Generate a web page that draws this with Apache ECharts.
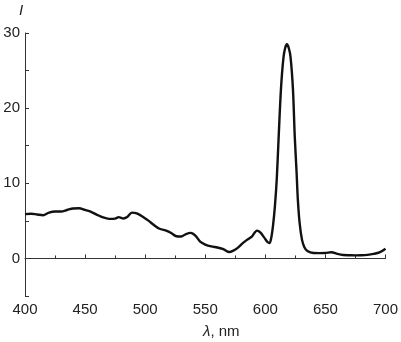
<!DOCTYPE html>
<html>
<head>
<meta charset="utf-8">
<script src="https://cdn.jsdelivr.net/npm/echarts@6/dist/echarts.min.js"></script>
<style>html,body{margin:0;padding:0;background:#fff;}#c{width:401px;height:342px;}</style>
</head>
<body>
<div id="c"></div>
<script>
const wavelengths = [400,405,410,415,420,425,430,435,440,445,450,455,460,465,470,475,478,482,485,489,493,498,503,507,512,518,522,526,530,534,538,542,546,550,555,560,565,570,573,577,581,585,589,593,596,599,602,603.5,605,606.5,608,609.5,611,613,615,616.5,618,619.5,621,623,624.5,626,627,628.5,630.5,632.5,635,640,645,650,655,660,665,670,675,680,685,690,695,700];
const intensity = [5.9,5.95,5.85,5.75,6.1,6.25,6.25,6.45,6.65,6.68,6.45,6.2,5.8,5.45,5.27,5.3,5.5,5.32,5.5,6.1,6.0,5.55,5.0,4.48,3.95,3.68,3.35,2.95,2.92,3.25,3.4,3.0,2.2,1.85,1.6,1.45,1.25,0.85,1.0,1.4,2.0,2.5,2.95,3.7,3.45,2.8,2.15,2.05,2.8,4.5,7.0,10.5,15.8,22.5,26.6,28.0,28.5,28.0,26.8,22.5,16.2,11.5,8.0,4.8,2.5,1.5,1.0,0.72,0.7,0.72,0.82,0.6,0.45,0.42,0.4,0.42,0.48,0.6,0.8,1.3];
const xTicks = [400,450,500,550,600,650,700];
const yTicks = [0,10,20,30];

const chart = echarts.init(document.getElementById('c'));
const axisColor = '#333';
const labelFont = {color:'#222', fontSize:15, fontFamily:'Liberation Sans, Arial, sans-serif'};
chart.setOption({
  animation:false,
  grid:{left:25, right:15.5, top:33, bottom:46},
  xAxis:{
    type:'value', min:400, max:700, interval:50,
    axisLine:{lineStyle:{color:axisColor,width:1}},
    axisTick:{inside:true,length:4,lineStyle:{color:axisColor}},
    minorTick:{show:true,splitNumber:2,length:3,lineStyle:{color:axisColor}},
    axisLabel:Object.assign({margin:6,formatter:function(v){return xTicks.indexOf(v)>=0? String(v):'';}},labelFont),
    splitLine:{show:false}
  },
  yAxis:{
    type:'value', min:-5, max:30, interval:5,
    axisLine:{show:true,lineStyle:{color:axisColor,width:1}},
    axisTick:{inside:true,length:4,lineStyle:{color:axisColor}},
    axisLabel:Object.assign({margin:5,formatter:function(v){return yTicks.indexOf(v)>=0? String(v):'';}},labelFont),
    splitLine:{show:false}
  },
  graphic:[
    {type:'text',left:19,top:3,style:{text:'I',font:'italic 15px Liberation Sans, Arial, sans-serif',fill:'#222'}},
    {type:'text',left:203,top:324,style:{
      text:'{i|λ}{n|, nm}',
      rich:{
        i:{font:'italic 15px Liberation Sans, Arial, sans-serif',fill:'#222'},
        n:{font:'15px Liberation Sans, Arial, sans-serif',fill:'#222'}
      }
    }}
  ],
  series:[{
    type:'line',
    data:wavelengths.map((w,i)=>[w,intensity[i]]),
    showSymbol:false,
    smooth:0.3,
    lineStyle:{color:'#111',width:2.4},
    clip:false
  }]
});
</script>
</body>
</html>
